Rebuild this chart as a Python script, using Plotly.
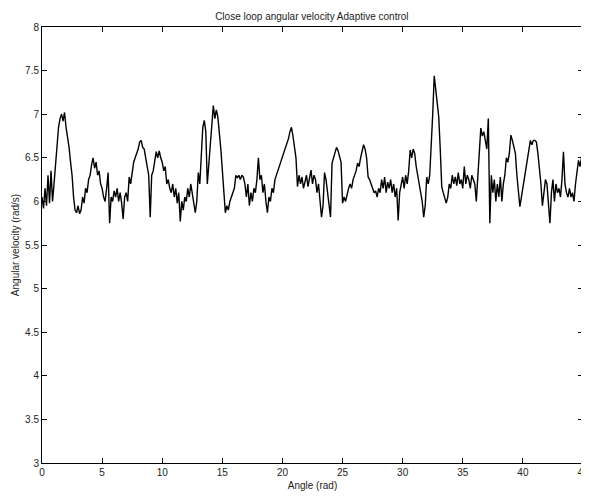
import numpy as np
import plotly.graph_objects as go

x_step = 0.125
angular_velocity = [
    6.05, 5.92, 6.15, 5.95, 6.3, 5.98, 6.35, 6.0,
    6.2, 6.45, 6.6, 6.85, 6.95, 7.0, 6.92, 7.02,
    6.85, 6.75, 6.62, 6.45, 6.3, 6.05, 5.9, 5.87,
    5.95, 5.86, 5.9, 6.05, 5.98, 6.15, 6.1, 6.25,
    6.3, 6.42, 6.5, 6.38, 6.45, 6.3, 6.35, 6.2,
    6.15, 6.05, 6.0, 6.15, 6.33, 5.75, 6.05, 6.0,
    6.12, 6.05, 6.15, 6.0, 6.1, 5.98, 5.8, 6.05,
    6.1, 6.0, 6.28, 6.2, 6.35, 6.45, 6.5, 6.55,
    6.6, 6.68, 6.7, 6.62, 6.6, 6.5, 6.4, 6.3,
    5.82, 6.3, 6.35, 6.45, 6.57, 6.5, 6.58, 6.5,
    6.45, 6.35, 6.4, 6.2, 6.25, 6.15, 6.1, 6.2,
    6.05, 6.15, 5.98, 6.1, 5.77, 6.0, 5.9, 6.05,
    6.0, 6.15, 6.05, 6.2, 6.1, 6.0, 5.87, 6.0,
    6.33, 6.2, 6.55, 6.85, 6.93, 6.8, 6.2, 6.45,
    6.7, 6.9, 7.1, 6.95, 7.05, 6.97, 6.8, 6.6,
    6.36, 6.1, 5.87, 5.95, 5.9, 6.0, 6.05, 6.1,
    6.15, 6.3, 6.27, 6.3, 6.25, 6.3, 6.28, 6.2,
    6.05, 6.2, 5.95, 6.1, 6.0, 6.15, 6.1, 6.25,
    6.5, 6.25, 6.3, 6.1, 6.2, 6.0, 5.87, 6.05,
    6.0, 6.15, 6.1, 6.25, 6.3, 6.35, 6.4, 6.45,
    6.5, 6.55, 6.6, 6.65, 6.72, 6.8, 6.85, 6.75,
    6.6, 6.5, 6.17, 6.3, 6.2, 6.28, 6.15, 6.25,
    6.3, 6.17, 6.25, 6.36, 6.2, 6.3, 6.25, 6.1,
    6.2, 6.0, 5.82, 5.95, 6.33, 6.25, 6.1, 6.0,
    5.82, 6.44, 6.5, 6.55, 6.62, 6.58, 6.5, 6.45,
    5.98, 6.05, 6.0, 6.1, 6.15, 6.2, 6.15, 6.25,
    6.3, 6.35, 6.44, 6.4, 6.5, 6.6, 6.65, 6.6,
    6.5, 6.28, 6.25, 6.2, 6.15, 6.1, 6.12, 6.05,
    6.15, 6.1, 6.25, 6.15, 6.28, 6.1, 6.22, 6.15,
    6.25, 6.1, 6.2, 6.05, 6.15, 5.78, 6.1, 6.2,
    6.28, 6.15, 6.3, 6.2, 6.35, 6.59, 6.5, 6.6,
    6.55, 6.4, 6.3, 6.2, 6.1, 6.0, 5.82, 5.95,
    6.28, 6.2, 6.3, 6.6, 7.0, 7.44, 7.3, 7.1,
    6.97, 6.6, 6.17, 6.1, 6.05, 5.98, 6.05, 6.2,
    6.15, 6.3, 6.2, 6.28, 6.18, 6.33, 6.2, 6.25,
    6.15, 6.4, 6.2, 6.3, 6.25, 6.15, 6.3, 6.25,
    6.2, 6.0, 6.3, 6.6, 6.84, 6.75, 6.8, 6.7,
    6.6, 6.95, 5.75, 6.3, 6.1, 6.25, 6.0, 6.2,
    6.05, 6.28, 6.0, 6.2, 6.3, 6.5, 6.45, 6.55,
    6.76, 6.7, 6.6, 6.55, 6.3, 6.1, 5.94, 6.05,
    6.15, 6.28, 6.4, 6.5, 6.6, 6.7, 6.65, 6.7,
    6.7, 6.68, 6.55, 6.4, 6.2, 5.95, 6.1, 6.25,
    6.2, 6.0, 5.75, 6.1, 6.25, 6.0, 6.2, 6.1,
    6.15, 6.05, 6.25, 6.57, 6.2, 6.1, 6.05, 6.15,
    6.05, 6.1, 6.0, 6.2, 6.35, 6.47, 6.4, 6.5,
    6.65,
]
angle = np.arange(len(angular_velocity)) * x_step

x_ticks = [0, 5, 10, 15, 20, 25, 30, 35, 40, 45]
y_ticks = [3, 3.5, 4, 4.5, 5, 5.5, 6, 6.5, 7, 7.5, 8]

fig = go.Figure()
fig.add_trace(go.Scatter(x=angle, y=angular_velocity, mode="lines",
                         line=dict(color="black", width=1.4)))

font = dict(family="Liberation Sans, Arial, sans-serif", size=10, color="#222")
axis_common = dict(showline=True, linecolor="black", linewidth=1, mirror="ticks",
                   ticks="inside", ticklen=5, tickcolor="black", showgrid=False,
                   zeroline=False, tickfont=font, automargin=False)
fig.update_layout(
    width=581, height=485,
    margin=dict(l=34, r=6, t=19, b=30),
    paper_bgcolor="white", plot_bgcolor="white",
    showlegend=False,
    title=dict(text="Close loop angular velocity Adaptive control",
               x=0.523, xanchor="center", y=0.99, yanchor="top",
               font=dict(family="Liberation Sans, Arial, sans-serif", size=10, color="#222")),
    xaxis=dict(range=[0, 45], tickvals=x_ticks, ticktext=[str(v) for v in x_ticks],
               title=dict(text="Angle (rad)", font=font, standoff=4), **axis_common),
    yaxis=dict(range=[3, 8], tickvals=y_ticks, ticktext=[str(v) for v in y_ticks],
               title=dict(text="Angular velocity (rad/s)", font=font, standoff=3), **axis_common),
)
fig.write_html("out.html")
